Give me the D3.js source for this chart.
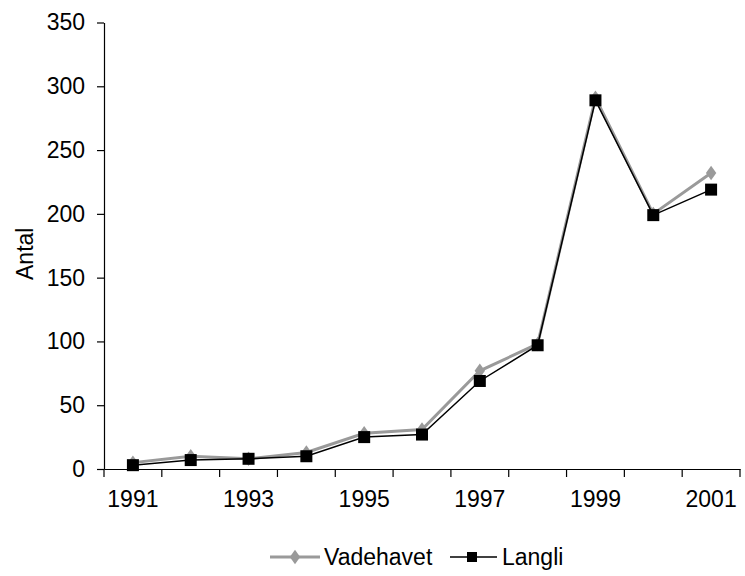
<!DOCTYPE html>
<html>
<head>
<meta charset="utf-8">
<script src="https://cdn.jsdelivr.net/npm/d3@7"></script>
<style>
  body { margin: 0; background: #fff; }
  svg text { font-family: "Liberation Sans", Arial, Helvetica, sans-serif; fill: #000; }
</style>
</head>
<body>
<div id="chart"></div>
<script>
// data
const years = ["1991", "1992", "1993", "1994", "1995", "1996", "1997", "1998", "1999", "2000", "2001"];
const vadehavet = [5, 10, 8, 13, 28, 31, 77, 98, 291, 200, 232];
const langli = [3, 7, 8, 10, 25, 27, 69, 97, 289, 199, 219];
const yTicks = [0, 50, 100, 150, 200, 250, 300, 350];
const xLabels = ["1991", "1993", "1995", "1997", "1999", "2001"];

const W = 745, H = 576;
const margin = { top: 22.5, right: 5, bottom: 107, left: 104 };
const fs = "23px";

const svg = d3.select("#chart")
  .append("svg")
  .attr("width", W)
  .attr("height", H);

const x = d3.scaleBand()
  .domain(years)
  .range([margin.left, W - margin.right])
  .padding(0);

const y = d3.scaleLinear()
  .domain([0, 350])
  .range([H - margin.bottom, margin.top]);

const y0 = y(0);

// y axis
const yAxis = svg.append("g")
  .attr("transform", `translate(${margin.left},0)`)
  .call(d3.axisLeft(y).tickValues(yTicks).tickSize(7).tickPadding(12).tickSizeOuter(0));
yAxis.select(".domain").attr("stroke", "#000").attr("stroke-width", 1.2);
yAxis.selectAll(".tick line").attr("stroke", "#000").attr("stroke-width", 1.2);
yAxis.selectAll("text").style("font-size", fs);

// x axis: labels at category centres, tick marks on category boundaries
const xAxis = svg.append("g")
  .attr("transform", `translate(0,${y0})`)
  .call(d3.axisBottom(x).tickSize(0).tickPadding(22).tickSizeOuter(0)
    .tickFormat(d => xLabels.includes(d) ? d : ""));
xAxis.select(".domain").attr("stroke", "#000").attr("stroke-width", 1.2);
xAxis.selectAll("text").style("font-size", fs);

const bounds = years.map(d => x(d)).concat([x(years[years.length - 1]) + x.bandwidth()]);
xAxis.selectAll(".bound")
  .data(bounds)
  .enter()
  .append("line")
  .attr("class", "bound")
  .attr("x1", d => d).attr("x2", d => d)
  .attr("y1", 0).attr("y2", 8)
  .attr("stroke", "#000")
  .attr("stroke-width", 1.2);

// y title
svg.append("text")
  .attr("transform", `translate(25,${(margin.top + y0) / 2 + 8}) rotate(-90)`)
  .attr("text-anchor", "middle")
  .attr("dy", "0.35em")
  .style("font-size", fs)
  .text("Antal");

const cx = d => x(d) + x.bandwidth() / 2;
const line = d3.line().x(d => cx(d.year)).y(d => y(d.v));

const vData = years.map((d, i) => ({ year: d, v: vadehavet[i] }));
const lData = years.map((d, i) => ({ year: d, v: langli[i] }));

const gray = "#9a9a9a";

// Vadehavet
svg.append("path")
  .datum(vData)
  .attr("fill", "none")
  .attr("stroke", gray)
  .attr("stroke-width", 3)
  .attr("d", line);

const diamond = d3.symbol().type(d3.symbolDiamond).size(60);
svg.selectAll(".dia")
  .data(vData)
  .enter()
  .append("path")
  .attr("class", "dia")
  .attr("transform", d => `translate(${cx(d.year)},${y(d.v)}) scale(1.25,1)`)
  .attr("d", diamond)
  .attr("fill", gray);

// Langli
svg.append("path")
  .datum(lData)
  .attr("fill", "none")
  .attr("stroke", "#000")
  .attr("stroke-width", 1.5)
  .attr("d", line);

svg.selectAll(".sq")
  .data(lData)
  .enter()
  .append("rect")
  .attr("class", "sq")
  .attr("x", d => cx(d.year) - 6)
  .attr("y", d => y(d.v) - 6)
  .attr("width", 12)
  .attr("height", 12)
  .attr("fill", "#000");

// legend
const ly = 557;
const legend = svg.append("g");
legend.append("line")
  .attr("x1", 270).attr("x2", 320).attr("y1", ly).attr("y2", ly)
  .attr("stroke", gray).attr("stroke-width", 3);
legend.append("path")
  .attr("transform", `translate(295,${ly}) scale(1.25,1)`)
  .attr("d", diamond)
  .attr("fill", gray);
legend.append("text")
  .attr("x", 324).attr("y", ly).attr("dy", "0.35em")
  .style("font-size", fs)
  .text("Vadehavet");
legend.append("line")
  .attr("x1", 450).attr("x2", 497).attr("y1", ly).attr("y2", ly)
  .attr("stroke", "#000").attr("stroke-width", 1.5);
legend.append("rect")
  .attr("x", 467).attr("y", ly - 5).attr("width", 10).attr("height", 10)
  .attr("fill", "#000");
legend.append("text")
  .attr("x", 502).attr("y", ly).attr("dy", "0.35em")
  .style("font-size", fs)
  .text("Langli");
</script>
</body>
</html>
